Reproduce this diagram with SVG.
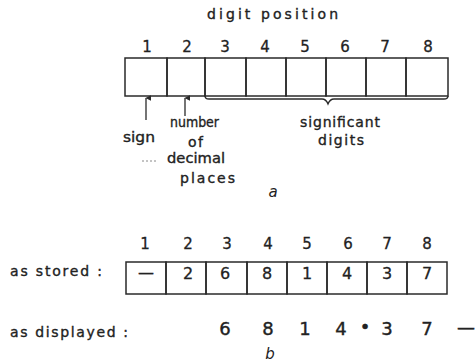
<svg xmlns="http://www.w3.org/2000/svg" width="475" height="364" viewBox="0 0 475 364">
<defs>
<style>
.bg{fill:#ffffff}
.cell{fill:none;stroke:#2a2a2a;stroke-width:1.5}
.t{font-family:"DejaVu Sans","Liberation Sans",sans-serif;fill:#222;stroke:#222;stroke-width:0.35;font-size:14px}
.num{font-family:"DejaVu Sans","Liberation Sans",sans-serif;fill:#222;stroke:#222;stroke-width:0.3;font-size:15px;text-anchor:middle}
.val{font-family:"DejaVu Sans","Liberation Sans",sans-serif;fill:#222;stroke:#222;stroke-width:0.3;font-size:16px;text-anchor:middle}
.disp{font-family:"DejaVu Sans","Liberation Sans",sans-serif;fill:#222;stroke:#222;stroke-width:0.4;font-size:18px;text-anchor:middle}
.cap{font-family:"DejaVu Sans","Liberation Sans",sans-serif;fill:#222;font-size:15px;font-style:italic;text-anchor:middle}
.ln{fill:none;stroke:#2a2a2a;stroke-width:1.3}
</style>
<marker id="ah" viewBox="0 0 10 10" refX="5" refY="1" markerWidth="6" markerHeight="6" orient="auto-start-reverse" markerUnits="userSpaceOnUse">
<path d="M0,10 L5,0 L10,10 Z" fill="#2a2a2a"/>
</marker>
</defs>
<rect class="bg" x="0" y="0" width="475" height="364"/>

<g id="title-a">
<text class="t" x="207" y="19" textLength="131" lengthAdjust="spacing">digit position</text>
</g>

<g id="positions-a">
<text class="num" x="147" y="52">1</text>
<text class="num" x="187" y="52">2</text>
<text class="num" x="225" y="52">3</text>
<text class="num" x="265" y="52">4</text>
<text class="num" x="305" y="52">5</text>
<text class="num" x="345" y="52">6</text>
<text class="num" x="385" y="52">7</text>
<text class="num" x="428" y="52">8</text>
</g>

<g id="register-a">
<rect class="cell" x="125" y="58" width="42" height="38"/>
<rect class="cell" x="167" y="58" width="38" height="38"/>
<rect class="cell" x="205" y="58" width="41" height="38"/>
<rect class="cell" x="246" y="58" width="40" height="38"/>
<rect class="cell" x="286" y="58" width="40" height="38"/>
<rect class="cell" x="326" y="58" width="40" height="38"/>
<rect class="cell" x="366" y="58" width="40" height="38"/>
<rect class="cell" x="406" y="58" width="42" height="38"/>
</g>

<g id="connectors">
<line class="ln" x1="146" y1="120" x2="146" y2="98" marker-end="url(#ah)"/>
<line class="ln" x1="185" y1="116" x2="185" y2="98" marker-end="url(#ah)"/>
<path class="ln" d="M205,96 Q205,99 209,99 L322,99 Q326,99 328,104 Q330,99 334,99 L444,99 Q448,99 448,96"/>
<line x1="142" y1="161" x2="156" y2="161" stroke="#888" stroke-width="1" stroke-dasharray="2,2"/>
</g>

<g id="label-sign">
<text class="t" x="123" y="142" textLength="32" lengthAdjust="spacingAndGlyphs">sign</text>
</g>
<g id="label-decimal">
<text class="t" x="170" y="127" textLength="49" lengthAdjust="spacingAndGlyphs">number</text>
<text class="t" x="188" y="147" textLength="15" lengthAdjust="spacing">of</text>
<text class="t" x="167" y="163" textLength="58" lengthAdjust="spacingAndGlyphs">decimal</text>
<text class="t" x="180" y="183" textLength="55" lengthAdjust="spacing">places</text>
</g>
<g id="label-significant">
<text class="t" x="300" y="127" textLength="80" lengthAdjust="spacing">significant</text>
<text class="t" x="318" y="145" textLength="46" lengthAdjust="spacing">digits</text>
</g>
<g id="caption-a">
<text class="cap" x="273" y="197">a</text>
</g>

<g id="positions-b">
<text class="num" x="145" y="249">1</text>
<text class="num" x="188" y="249">2</text>
<text class="num" x="227" y="249">3</text>
<text class="num" x="268" y="249">4</text>
<text class="num" x="307" y="249">5</text>
<text class="num" x="348" y="249">6</text>
<text class="num" x="387" y="249">7</text>
<text class="num" x="427" y="249">8</text>
</g>

<g id="label-stored">
<text class="t" x="10" y="276" textLength="92" lengthAdjust="spacing">as stored :</text>
</g>

<g id="register-b">
<rect class="cell" x="126" y="262" width="40" height="32"/>
<rect class="cell" x="166" y="262" width="40" height="32"/>
<rect class="cell" x="206" y="262" width="41" height="32"/>
<rect class="cell" x="247" y="262" width="40" height="32"/>
<rect class="cell" x="287" y="262" width="40" height="32"/>
<rect class="cell" x="327" y="262" width="40" height="32"/>
<rect class="cell" x="367" y="262" width="40" height="32"/>
<rect class="cell" x="407" y="262" width="40" height="32"/>
<text class="val" x="146" y="278">—</text>
<text class="val" x="188" y="279">2</text>
<text class="val" x="225" y="279">6</text>
<text class="val" x="267" y="279">8</text>
<text class="val" x="307" y="279">1</text>
<text class="val" x="347" y="279">4</text>
<text class="val" x="387" y="279">3</text>
<text class="val" x="427" y="279">7</text>
</g>

<g id="label-displayed">
<text class="t" x="10" y="337" textLength="118" lengthAdjust="spacing">as displayed :</text>
</g>

<g id="displayed-value">
<text class="disp" x="225" y="335">6</text>
<text class="disp" x="268" y="335">8</text>
<text class="disp" x="305" y="335">1</text>
<text class="disp" x="341" y="335">4</text>
<text class="disp" x="365" y="333" font-size="12">•</text>
<text class="disp" x="387" y="335">3</text>
<text class="disp" x="427" y="335">7</text>
<text class="disp" x="466" y="333" font-size="16">—</text>
</g>

<g id="caption-b">
<text class="cap" x="270" y="359">b</text>
</g>
</svg>
